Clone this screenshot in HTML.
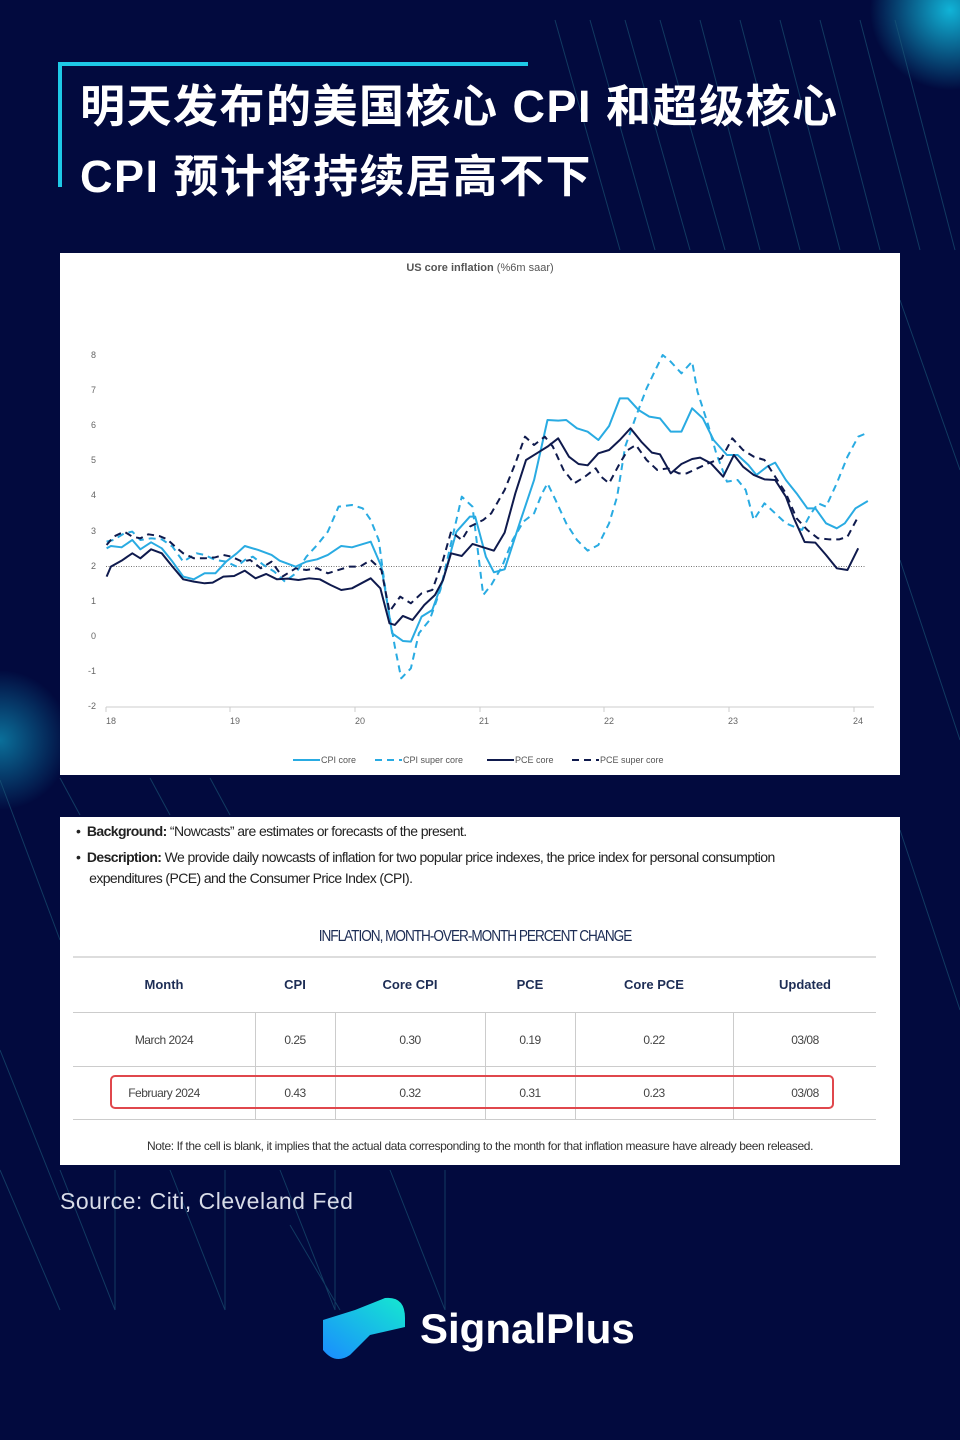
<!DOCTYPE html>
<html><head><meta charset="utf-8"><style>
body{margin:0;width:960px;height:1440px;background:#020a3e;position:relative;overflow:hidden;font-family:"Liberation Sans","Noto Sans CJK SC",sans-serif}
.abs{position:absolute}
.title{left:80px;top:72px;color:#fff;font-size:45px;font-weight:bold;line-height:70px;font-family:"Liberation Sans","Noto Sans CJK SC",sans-serif;letter-spacing:1.5px}
.panel{background:#fff;left:60px;width:840px}
.tt{font-family:"Liberation Sans Narrow","Liberation Sans",sans-serif;color:#1d2d55}
.hd{font-weight:bold;font-size:13px;color:#1d2d55;text-align:center;width:120px;margin-left:-60px}
.cell{font-size:12px;color:#444;text-align:center;width:120px;margin-left:-60px;letter-spacing:-0.5px}
</style></head><body>
<svg class="abs" style="left:0;top:0" width="960" height="1440">
<defs>
<radialGradient id="g1"><stop offset="0" stop-color="#12c6e8" stop-opacity="0.9"/><stop offset="1" stop-color="#12c6e8" stop-opacity="0"/></radialGradient>
<linearGradient id="lg" x1="0" y1="1" x2="1" y2="0"><stop offset="0" stop-color="#1a8cff"/><stop offset="1" stop-color="#15e8d0"/></linearGradient>
</defs>
<circle cx="950" cy="10" r="80" fill="url(#g1)"/>
<circle cx="0" cy="740" r="70" fill="url(#g1)" opacity="0.6"/>
<g stroke="#1d5a7a" stroke-width="1" fill="none" opacity="0.6">
<path d="M555 20 L620 250 M590 20 L655 250 M625 20 L690 250 M660 20 L725 250 M700 20 L760 250 M740 20 L800 250 M780 20 L840 250 M820 20 L880 250 M860 20 L920 250 M895 20 L955 250"/>
<path d="M900 300 L960 470 M900 560 L960 740 M900 830 L960 1010"/>
<path d="M0 780 L60 940 M0 1170 L60 1310 M0 1050 L60 1200"/>
<path d="M60 1170 L115 1310 M115 1170 L115 1310 M170 1170 L225 1310 M225 1170 L225 1310 M280 1170 L335 1310 M335 1170 L335 1310 M390 1170 L445 1310 M445 1170 L445 1310 M290 1225 L340 1310"/>
<path d="M150 778 L170 815 M210 778 L230 815 M60 778 L80 815"/>
</g>
<path d="M60 187 V64 H528" stroke="#1ec9e6" stroke-width="4" fill="none"/>
<path d="M323 1320 L355 1310 L385 1298 Q405 1296 405 1318 L405 1327 L370 1335 L350 1355 Q335 1365 323 1350 Z" fill="url(#lg)"/>
<text x="420" y="1343" fill="#fff" font-size="42" font-weight="bold" font-family="Liberation Sans,sans-serif">SignalPlus</text>
</svg>
<div class="abs title">明天发布的美国核心 CPI 和超级核心<br>CPI 预计将持续居高不下</div>
<div class="abs panel" style="top:253px;height:522px">
<div class="abs" style="left:0;width:840px;top:9px;text-align:center;font-size:11px;color:#555"><b>US core inflation</b> (%6m saar)</div>
</div>
<svg class="abs" style="left:0;top:0" width="960" height="800">
<g font-size="9" fill="#666" font-family="Liberation Sans,sans-serif" text-anchor="end">
<text x="96" y="358">8</text><text x="96" y="393">7</text><text x="96" y="428">6</text><text x="96" y="463">5</text><text x="96" y="498">4</text><text x="96" y="534">3</text><text x="96" y="569">2</text><text x="96" y="604">1</text><text x="96" y="639">0</text><text x="96" y="674">-1</text><text x="96" y="709">-2</text>
</g>
<g font-size="9" fill="#666" font-family="Liberation Sans,sans-serif" text-anchor="middle">
<text x="111" y="724">18</text><text x="235" y="724">19</text><text x="360" y="724">20</text><text x="484" y="724">21</text><text x="609" y="724">22</text><text x="733" y="724">23</text><text x="858" y="724">24</text>
</g>
<line x1="106" y1="707" x2="874" y2="707" stroke="#ccc"/>
<g stroke="#ccc"><path d="M106 707v5M230 707v5M355 707v5M480 707v5M604 707v5M729 707v5M854 707v5"/></g>
<line x1="106" y1="566.5" x2="866" y2="566.5" stroke="#777" stroke-dasharray="1,1.5"/>
<g transform="translate(60,340) scale(0.5357,0.3333)" fill="none" stroke-linejoin="round">
<polyline stroke="#29abe2" stroke-width="2" vector-effect="non-scaling-stroke" points="87,625 95,618 115,622 135,600 150,628 170,607 190,625 210,665 230,710 250,718 270,700 290,700 310,665 330,640 345,618 370,630 395,645 410,662 440,680 460,665 480,658 500,645 525,618 545,622 580,605 600,680 620,880 640,903 655,905 675,830 695,810 715,720 740,575 765,530 775,530 795,650 810,697 830,688 860,540 885,420 910,240 930,242 945,240 965,265 985,275 1005,300 1025,258 1045,175 1060,175 1080,210 1100,230 1120,235 1140,275 1160,275 1180,205 1200,235 1220,300 1245,345 1265,345 1285,375 1300,405 1320,380 1335,368 1355,420 1375,460 1395,505 1410,505 1430,550 1450,565 1465,550 1485,505 1508,483"/>
<polyline stroke="#29abe2" stroke-width="2" stroke-dasharray="7,5" vector-effect="non-scaling-stroke" points="87,605 100,600 120,580 135,575 150,600 170,595 190,598 210,620 230,665 255,640 270,645 290,660 310,665 330,680 345,660 360,650 380,675 400,695 420,725 440,700 460,650 480,615 500,575 520,500 545,495 565,505 580,540 595,600 610,780 625,920 637,1015 655,985 670,880 690,840 710,750 730,610 750,470 770,500 790,765 805,735 825,680 845,600 865,545 885,520 900,460 910,430 925,480 945,550 965,600 985,632 1005,615 1025,550 1040,470 1055,320 1075,230 1095,145 1110,95 1125,45 1140,65 1160,100 1180,65 1190,155 1210,255 1225,340 1245,425 1265,420 1280,450 1295,540 1315,490 1335,520 1355,550 1370,560 1385,570 1400,525 1415,490 1430,500 1450,430 1470,350 1490,290 1508,278"/>
<polyline stroke="#0f1a4d" stroke-width="2" vector-effect="non-scaling-stroke" points="87,710 95,680 115,662 135,640 150,655 170,628 190,640 210,680 230,718 250,725 270,730 285,728 305,710 325,708 345,692 365,715 385,702 405,718 425,716 445,720 465,715 485,718 505,735 525,750 545,745 580,715 598,745 615,850 625,855 640,828 658,840 680,795 700,765 715,720 730,640 750,648 770,612 790,622 810,632 830,578 850,460 870,360 890,340 910,320 930,295 950,350 968,372 985,376 1005,340 1025,330 1045,300 1065,265 1085,305 1105,338 1120,343 1140,400 1160,372 1180,357 1195,353 1215,370 1238,410 1258,345 1275,380 1295,405 1315,418 1335,420 1355,470 1370,535 1390,606 1410,608 1430,645 1450,685 1470,690 1490,625"/>
<polyline stroke="#0f1a4d" stroke-width="2" stroke-dasharray="7,5" vector-effect="non-scaling-stroke" points="87,615 100,590 120,575 135,590 150,595 165,583 185,588 200,598 215,620 230,640 250,655 270,655 290,652 305,645 320,650 340,665 355,660 375,685 395,665 415,710 440,685 460,690 480,685 500,700 520,690 540,680 560,680 580,660 600,690 615,815 635,770 655,790 675,760 695,750 715,660 730,575 750,600 765,560 790,540 805,520 830,450 850,370 868,290 885,315 905,290 920,320 940,390 960,430 980,410 1000,385 1010,410 1025,430 1045,370 1060,330 1075,315 1095,360 1115,390 1135,385 1155,400 1170,400 1190,385 1210,370 1235,355 1255,295 1275,330 1295,350 1315,360 1335,410 1355,460 1375,535 1395,570 1415,595 1435,598 1455,598 1470,590 1490,530"/>
</g>
<g font-size="9" fill="#555" font-family="Liberation Sans,sans-serif">
<line x1="293" y1="760" x2="320" y2="760" stroke="#29abe2" stroke-width="2"/><text x="321" y="763">CPI core</text>
<line x1="375" y1="760" x2="402" y2="760" stroke="#29abe2" stroke-width="2" stroke-dasharray="7,5"/><text x="403" y="763">CPI super core</text>
<line x1="487" y1="760" x2="514" y2="760" stroke="#0f1a4d" stroke-width="2"/><text x="515" y="763">PCE core</text>
<line x1="572" y1="760" x2="599" y2="760" stroke="#0f1a4d" stroke-width="2" stroke-dasharray="7,5"/><text x="600" y="763">PCE super core</text>
</g>
</svg>
<div class="abs panel" style="top:817px;height:348px">
<div class="abs tt" style="left:16px;top:6px;font-size:14px;color:#222;letter-spacing:-0.6px">•&nbsp; <b>Background:</b> “Nowcasts” are estimates or forecasts of the present.</div>
<div class="abs tt" style="left:16px;top:30px;font-size:14px;color:#222;line-height:21px;letter-spacing:-0.6px;width:820px">•&nbsp; <b>Description:</b> We provide daily nowcasts of inflation for two popular price indexes, the price index for personal consumption<br>&nbsp;&nbsp;&nbsp;&nbsp;expenditures (PCE) and the Consumer Price Index (CPI).</div>
<div class="abs tt" style="left:0;width:830px;top:111px;text-align:center;font-size:16px;letter-spacing:-1.2px;transform:scaleX(0.85)">INFLATION, MONTH-OVER-MONTH PERCENT CHANGE</div>
<div class="abs" style="left:13px;width:803px;top:139px;height:2px;background:#ddd"></div>
<div class="abs" style="left:13px;width:803px;top:195px;height:1px;background:#ccc"></div>
<div class="abs" style="left:13px;width:803px;top:249px;height:1px;background:#ccc"></div>
<div class="abs" style="left:13px;width:803px;top:302px;height:1px;background:#ccc"></div>
<div class="abs" style="left:195px;top:195px;width:1px;height:107px;background:#ccc"></div>
<div class="abs" style="left:275px;top:195px;width:1px;height:107px;background:#ccc"></div>
<div class="abs" style="left:425px;top:195px;width:1px;height:107px;background:#ccc"></div>
<div class="abs" style="left:515px;top:195px;width:1px;height:107px;background:#ccc"></div>
<div class="abs" style="left:673px;top:195px;width:1px;height:107px;background:#ccc"></div>
<div class="abs" style="left:50px;top:258px;width:720px;height:30px;border:2.5px solid #e0474c;border-radius:5px"></div>
<div class="abs hd" style="left:104px;top:160px">Month</div><div class="abs hd" style="left:235px;top:160px">CPI</div><div class="abs hd" style="left:350px;top:160px">Core CPI</div><div class="abs hd" style="left:470px;top:160px">PCE</div><div class="abs hd" style="left:594px;top:160px">Core PCE</div><div class="abs hd" style="left:745px;top:160px">Updated</div>
<div class="abs cell" style="left:104px;top:216px">March 2024</div><div class="abs cell" style="left:235px;top:216px">0.25</div><div class="abs cell" style="left:350px;top:216px">0.30</div><div class="abs cell" style="left:470px;top:216px">0.19</div><div class="abs cell" style="left:594px;top:216px">0.22</div><div class="abs cell" style="left:745px;top:216px">03/08</div>
<div class="abs cell" style="left:104px;top:269px">February 2024</div><div class="abs cell" style="left:235px;top:269px">0.43</div><div class="abs cell" style="left:350px;top:269px">0.32</div><div class="abs cell" style="left:470px;top:269px">0.31</div><div class="abs cell" style="left:594px;top:269px">0.23</div><div class="abs cell" style="left:745px;top:269px">03/08</div>
<div class="abs" style="left:0;width:840px;top:322px;text-align:center;font-size:12px;color:#333;letter-spacing:-0.4px">Note: If the cell is blank, it implies that the actual data corresponding to the month for that inflation measure have already been released.</div>
</div>
<div class="abs" style="left:60px;top:1188px;color:#d8dce8;font-size:23px;letter-spacing:0.5px">Source: Citi, Cleveland Fed</div>
</body></html>
